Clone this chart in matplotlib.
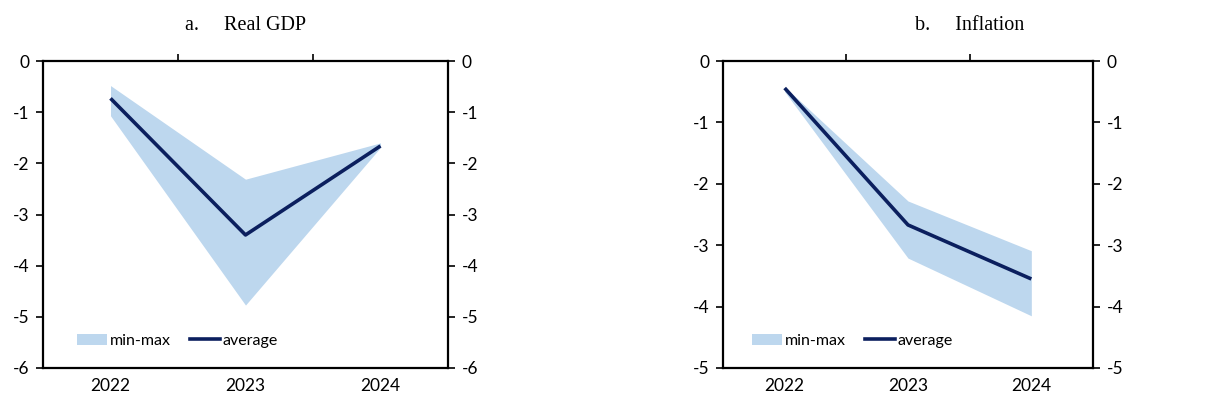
import matplotlib
matplotlib.use("Agg")
import matplotlib.pyplot as plt
from matplotlib.patches import Patch
from matplotlib.lines import Line2D

plt.rcParams["axes.unicode_minus"] = False

years = ["2022", "2023", "2024"]

gdp_min = [-1.07, -4.77, -1.69]
gdp_max = [-0.48, -2.31, -1.60]
gdp_avg = [-0.73, -3.40, -1.66]

inf_min = [-0.50, -3.21, -4.15]
inf_max = [-0.42, -2.28, -3.09]
inf_avg = [-0.44, -2.67, -3.55]

BAND = "#BDD7EE"
LINE = "#0B1F5E"
TICK_FONT = "Lato"
TITLE_FONT = "Liberation Serif"

fig = plt.figure(figsize=(12.18, 4.08), dpi=100)

W, H = 1218, 408


def panel(left, right, lo, hi, avg, ymin, leg_x):
    ax = fig.add_axes([left / W, 1 - 368 / H, (right - left) / W, (368 - 61) / H])
    x = list(range(len(years)))
    ax.fill_between(x, lo, hi, color=BAND, linewidth=0, zorder=1)
    ax.plot(x, avg, color=LINE, lw=2.6, zorder=2, solid_capstyle="butt")
    ax.set_xlim(-0.5, len(years) - 0.5)
    ax.set_ylim(ymin, 0)
    ax.set_yticks(range(ymin, 1))
    for s in ax.spines.values():
        s.set_linewidth(1.6)
        s.set_color("black")

    # category labels at the bottom, boundary ticks on the top axis line
    ax.set_xticks(x)
    ax.set_xticklabels(years, fontfamily=TICK_FONT, fontsize=12.5)
    ax.set_xticks([i + 0.5 for i in x[:-1]], minor=True)
    ax.tick_params(axis="x", which="major", length=0, pad=7)
    ax.tick_params(axis="x", which="minor", bottom=False, top=True,
                   direction="out", length=5, width=1.2)

    ax.tick_params(axis="y", which="major", left=True, right=True,
                   labelleft=True, labelright=True, direction="out",
                   length=5, width=1.2, pad=5)
    for lab in ax.get_yticklabels():
        lab.set_fontfamily(TICK_FONT)
        lab.set_fontsize(12.5)

    handles = [Patch(facecolor=BAND, edgecolor="none"),
               Line2D([0], [0], color=LINE, lw=2.6)]
    ax.legend(handles, ["min-max", "average"], ncol=2, frameon=False,
              loc="center left", bbox_to_anchor=(leg_x, 0.088),
              borderpad=0, borderaxespad=0, handlelength=1.9,
              handletextpad=0.15, columnspacing=1.2,
              prop={"family": TICK_FONT, "size": 11.5})
    return ax


panel(43, 448, gdp_min, gdp_max, gdp_avg, -6, 0.084)
panel(723, 1093, inf_min, inf_max, inf_avg, -5, 0.078)

fig.text(185 / W, 1 - 26 / H, "a.     Real GDP", ha="left", va="center",
         fontfamily=TITLE_FONT, fontsize=14.5)
fig.text(915 / W, 1 - 26 / H, "b.     Inflation", ha="left", va="center",
         fontfamily=TITLE_FONT, fontsize=14.5)

fig.savefig("out.png", dpi=100)
